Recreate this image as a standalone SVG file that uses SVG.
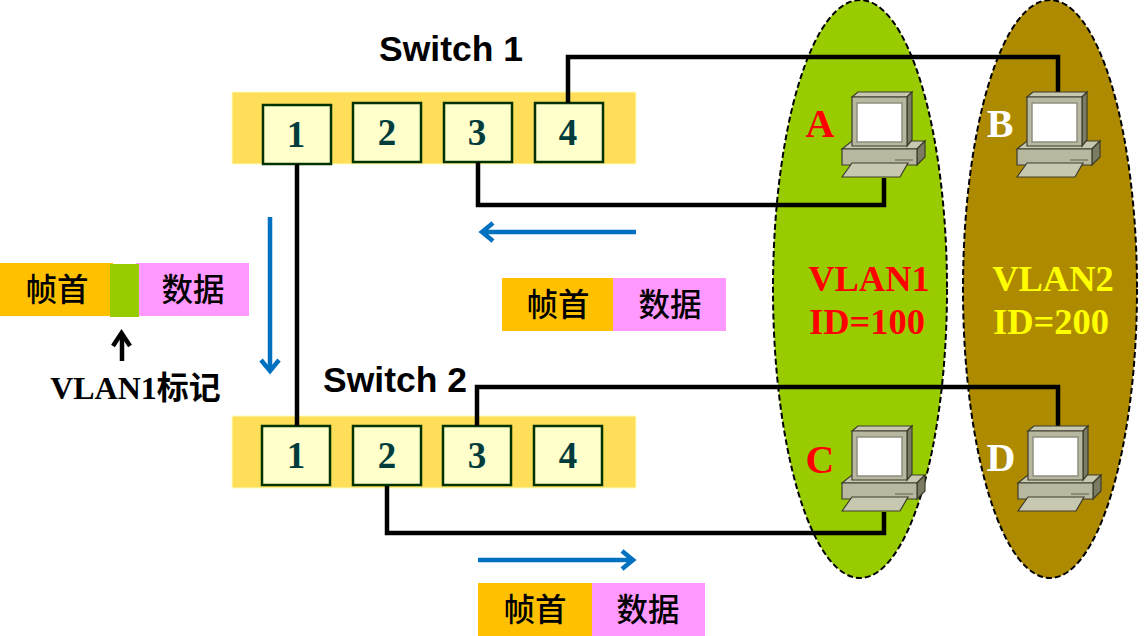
<svg xmlns="http://www.w3.org/2000/svg" xmlns:xlink="http://www.w3.org/1999/xlink" width="1148" height="636" viewBox="0 0 1148 636">
<style>
.vlan{stroke:#000;stroke-width:2;stroke-dasharray:6 3}
.bar{fill:#ffde59;stroke:#ffffc0;stroke-width:1}
.port{fill:#ffffcc;stroke:#003300;stroke-width:2.500}
.pn{font:bold 37px "Liberation Serif",serif;fill:#003c3c;text-anchor:middle}
.sw{font:bold 35.500px "Liberation Sans",Arial,sans-serif;fill:#000;text-anchor:middle}
.wire{fill:none;stroke:#000;stroke-width:4.500}
.blue{fill:none;stroke:#0070c0;stroke-width:4.500}
.lt{font:bold 40px "Liberation Serif",serif;text-anchor:middle}
.vt{font:bold 36.500px "Liberation Serif",serif;text-anchor:middle}
.cjk{font:500 31.500px "Noto Sans CJK SC",sans-serif;fill:#000;text-anchor:middle}
.orange{fill:#ffc000}.pink{fill:#ff99ff}
</style>
<defs>
<marker id="ah" markerUnits="userSpaceOnUse" markerWidth="22" markerHeight="24" refX="18" refY="12" orient="auto"><path d="M7 3L18 12L7 21" fill="none" stroke="#0070c0" stroke-width="4.500"/></marker>
<g id="pc" stroke="#3c3c2c" stroke-width="1.200">
<path d="M1 57L11 49H84L76 57Z" fill="#c8c8b0"/>
<path d="M76 57L84 49V65L76 73Z" fill="#7c7c62"/>
<path d="M1 57H76V73H1Z" fill="#b8b8a0"/>
<path d="M11 5L17 0H71L66 5Z" fill="#c8c8b0"/>
<path d="M66 5L71 0V48L66 54Z" fill="#7c7c62"/>
<path d="M11 5H66V54H11Z" fill="#b8b8a0"/>
<path d="M16 11H61V50H16Z" fill="#fff" stroke="#8e8e80" stroke-width="1.500"/>
<path d="M54 68H72" fill="none" stroke="#6e6e58" stroke-width="1.200"/>
<path d="M1 85L11 71H67L59 85Z" fill="#c8c8b0"/>
</g>
</defs>
<g id="vlan1"><ellipse class="vlan" cx="860" cy="289" rx="87" ry="289" fill="#99cc00"/>
<text class="vt" x="869" y="291" fill="#f00">VLAN1</text><text class="vt" x="867" y="334" fill="#f00">ID=100</text></g>
<g id="vlan2"><ellipse class="vlan" cx="1050" cy="289" rx="87" ry="289" fill="#ad8a00"/>
<text class="vt" x="1053" y="291" fill="#ff0">VLAN2</text><text class="vt" x="1051" y="334" fill="#ff0">ID=200</text></g>
<g id="switch1">
<rect class="bar" x="232" y="92" width="404" height="72"/>
<text class="sw" x="451" y="61">Switch 1</text>
<rect class="port" x="263" y="105" width="68" height="59"/><text class="pn" x="296" y="147">1</text>
<rect class="port" x="353" y="103" width="68" height="59"/><text class="pn" x="387" y="145">2</text>
<rect class="port" x="444" y="103" width="68" height="59"/><text class="pn" x="477" y="145">3</text>
<rect class="port" x="535" y="103" width="68" height="59"/><text class="pn" x="568" y="145">4</text>
</g>
<g id="switch2">
<rect class="bar" x="232" y="416" width="404" height="72"/>
<text class="sw" x="395" y="392">Switch 2</text>
<rect class="port" x="262" y="426" width="68" height="59"/><text class="pn" x="296" y="468">1</text>
<rect class="port" x="353" y="426" width="68" height="59"/><text class="pn" x="387" y="468">2</text>
<rect class="port" x="443" y="426" width="68" height="59"/><text class="pn" x="477" y="468">3</text>
<rect class="port" x="534" y="426" width="68" height="59"/><text class="pn" x="568" y="468">4</text>
</g>
<g id="connectors">
<path class="wire" d="M568 103V57H1058V92"/>
<path class="wire" d="M478 162V205H884V178"/>
<path class="wire" d="M297 164V426"/>
<path class="wire" d="M477 426V387H1058V426"/>
<path class="wire" d="M387 486V533H884V512"/>
<path class="blue" marker-end="url(#ah)" d="M270 217V371"/>
<path class="blue" marker-end="url(#ah)" d="M636 232H482"/>
<path class="blue" marker-end="url(#ah)" d="M478 560H633"/>
</g>
<g id="pcA"><use xlink:href="#pc" href="#pc" x="841" y="92"/><text class="lt" x="820" y="137" fill="#f00">A</text></g>
<g id="pcB"><use xlink:href="#pc" href="#pc" x="1016" y="92"/><text class="lt" x="1000" y="137" fill="#fff">B</text></g>
<g id="pcC"><use xlink:href="#pc" href="#pc" x="841" y="426"/><text class="lt" x="820" y="473" fill="#f00">C</text></g>
<g id="pcD"><use xlink:href="#pc" href="#pc" x="1017" y="426"/><text class="lt" x="1001" y="471" fill="#fff">D</text></g>
<g id="frameTagged">
<rect class="orange" x="0" y="263" width="113" height="53"/>
<rect class="pink" x="136" y="263" width="113" height="53"/>
<rect x="110" y="264" width="29" height="53" fill="#99cc00"/>
<text class="cjk" x="57" y="301">帧首</text><text class="cjk" x="193" y="301">数据</text>
</g>
<g id="frameMid">
<rect class="orange" x="502" y="278" width="111" height="53"/><rect class="pink" x="613" y="278" width="113" height="53"/>
<text class="cjk" x="558" y="316">帧首</text><text class="cjk" x="670" y="316">数据</text>
</g>
<g id="frameBottom">
<rect class="orange" x="478" y="583" width="114" height="53"/><rect class="pink" x="592" y="583" width="113" height="53"/>
<text class="cjk" x="535" y="621">帧首</text><text class="cjk" x="648" y="621">数据</text>
</g>
<g id="tag">
<path d="M122 361V334" fill="none" stroke="#000" stroke-width="4.500"/><path d="M113 346L121.500 333L130 346" fill="none" stroke="#000" stroke-width="4.500"/>
<text x="135.500" y="399" style="font:bold 32px 'Liberation Serif','Noto Sans CJK SC',serif;text-anchor:middle">VLAN1标记</text>
</g>
</svg>
